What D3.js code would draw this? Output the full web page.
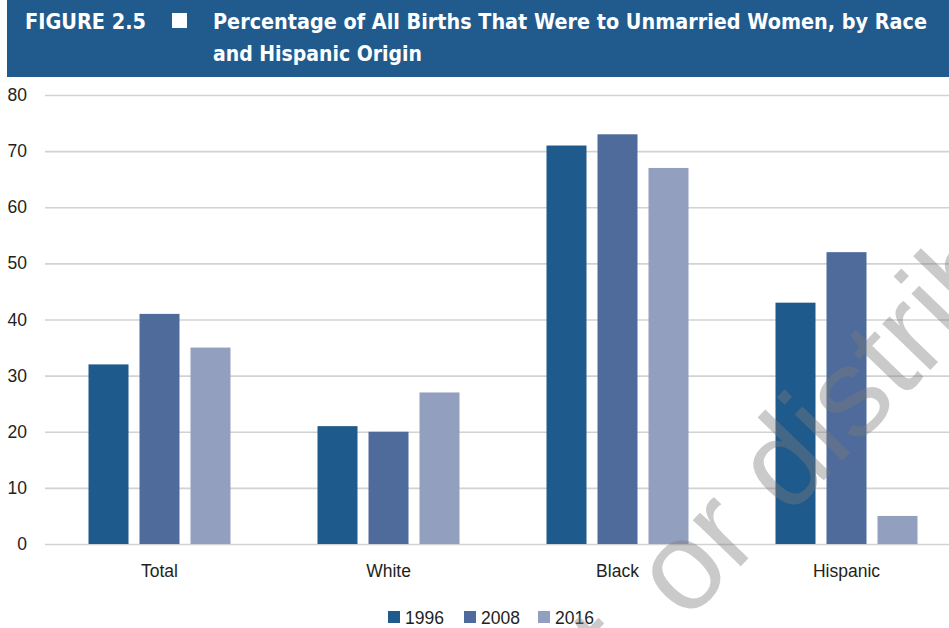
<!DOCTYPE html>
<html><head><meta charset="utf-8">
<script src="https://cdn.jsdelivr.net/npm/d3@7"></script>
<style>body{margin:0;background:#fff}svg{display:block}</style>
</head><body>
<svg id="c" width="949" height="628"></svg>
<script>
const categories = ["Total", "White", "Black", "Hispanic"];
const years = ["1996", "2008", "2016"];
const v1996 = [32, 21, 71, 43];
const v2008 = [41, 20, 73, 52];
const v2016 = [35, 27, 67, 5];
const yTicks = [0, 10, 20, 30, 40, 50, 60, 70, 80];
const colors = ["#1f5a8c", "#4f6b9c", "#939fbf"];
const titleNum = "FIGURE 2.5";
const titleLines = ["Percentage of All Births That Were to Unmarried Women, by Race", "and Hispanic Origin"];

const series = [v1996, v2008, v2016];
const svg = d3.select("#c");
const W = 949, H = 628;

// header
svg.append("rect").attr("x", 7).attr("y", 0).attr("width", W - 7).attr("height", 77).attr("fill", "#215b8d");
const tf = "'Liberation Sans Narrow','DejaVu Sans Condensed','Roboto Condensed',sans-serif";
svg.append("text").attr("x", 25).attr("y", 29).attr("fill", "#fff").attr("font-family", tf)
  .attr("font-weight", "bold").attr("font-size", 22).attr("textLength", 121).attr("lengthAdjust", "spacingAndGlyphs").text(titleNum);
svg.append("rect").attr("x", 172).attr("y", 13).attr("width", 15).attr("height", 15).attr("fill", "#fff");
const tl = [714, 209];
titleLines.forEach((t, i) => {
  svg.append("text").attr("x", 213).attr("y", 29 + i * 32).attr("fill", "#fff").attr("font-family", tf)
    .attr("font-weight", "bold").attr("font-size", 22).attr("textLength", tl[i]).attr("lengthAdjust", "spacingAndGlyphs").text(t);
});

const x0 = d3.scaleBand().domain(categories).range([45, 961]).padding(0);
const x1 = d3.scaleBand().domain(years).range([43.5, 185.5]).paddingInner(11 / 51).paddingOuter(0);
const y = d3.scaleLinear().domain([0, 80]).range([544, 95]);

const font = "'Liberation Sans', Arial, sans-serif";

// y axis + grid
const ya = svg.append("g").attr("transform", "translate(45,0)")
  .call(d3.axisLeft(y).tickValues(yTicks).tickSize(-(W - 45)).tickPadding(18));
ya.select(".domain").remove();
ya.selectAll(".tick line").attr("stroke", "#d2d2d2").attr("stroke-width", 1.6);
ya.selectAll(".tick text").attr("font-family", font).attr("font-size", 17.5).attr("fill", "#231f20");

// bars
const g = svg.append("g");
categories.forEach((c, ci) => {
  years.forEach((yr, si) => {
    const val = series[si][ci];
    g.append("rect")
      .attr("x", x0(c) + x1(yr)).attr("width", x1.bandwidth())
      .attr("y", y(val)).attr("height", y(0) - y(val))
      .attr("fill", colors[si]);
  });
});

// x axis labels
const xa = svg.append("g").attr("transform", "translate(0,544)")
  .call(d3.axisBottom(x0).tickSize(0).tickPadding(21));
xa.select(".domain").remove();
xa.selectAll(".tick text").attr("font-family", font).attr("font-size", 17.5).attr("fill", "#231f20");

// legend
const lx = [388, 464, 538];
years.forEach((yr, i) => {
  svg.append("rect").attr("x", lx[i]).attr("y", 611).attr("width", 12).attr("height", 12).attr("fill", colors[i]);
  svg.append("text").attr("x", lx[i] + 17).attr("y", 624).attr("font-family", font).attr("font-size", 17.5)
    .attr("fill", "#231f20").text(yr);
});

// watermark
const wm = svg.append("g").attr("transform", "translate(686,623) rotate(-46)")
  .attr("font-family", font).attr("font-size", 126).attr("fill", "#7a7a7a").attr("fill-opacity", 0.4);
wm.append("text").attr("text-anchor", "start").text("or distribute");
wm.append("text").attr("text-anchor", "end").attr("x", -20).text("Do not copy, post, ");
</script>
</body></html>
